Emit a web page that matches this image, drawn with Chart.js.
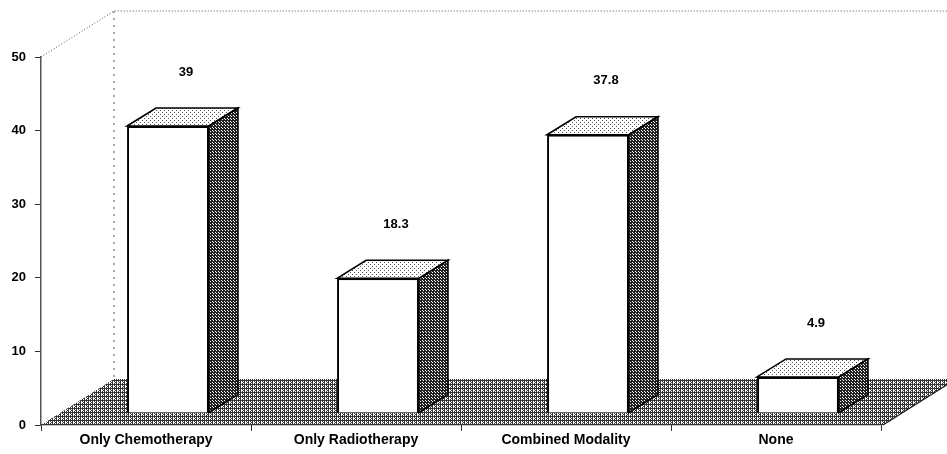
<!DOCTYPE html>
<html><head><meta charset="utf-8">
<script src="https://cdn.jsdelivr.net/npm/chart.js@4/dist/chart.umd.min.js"></script>
<style>html,body{margin:0;padding:0;background:#fff}#wrap{width:947px;height:454px}</style>
</head><body><div id="wrap"><canvas id="c" width="947" height="454"></canvas></div>
<script>
const categories = ['Only Chemotherapy', 'Only Radiotherapy', 'Combined Modality', 'None'];
const percentages = [39, 18.3, 37.8, 4.9];
const valueLabels = ['39', '18.3', '37.8', '4.9'];
const yMin = 0, yMax = 50, yStep = 10;

const FLOOR = {dx: 73, dy: -46};
const SHIFT = {dx: 22, dy: -12};
const DEPTH = {dx: 29, dy: -18};
const FONT = '"Liberation Sans", Arial, sans-serif';

function makePattern(ctx, rows, dark) {
  const c = document.createElement('canvas');
  c.width = rows[0].length; c.height = rows.length;
  const g = c.getContext('2d');
  g.fillStyle = '#fff'; g.fillRect(0, 0, c.width, c.height);
  g.fillStyle = dark;
  rows.forEach((r, y) => [...r].forEach((ch, x) => { if (ch === 'x') g.fillRect(x, y, 1, 1); }));
  return ctx.createPattern(c, 'repeat');
}
let P = null;
function pats(ctx) {
  if (!P) {
    P = {
      floor: makePattern(ctx, ['xxxx', 'x.x.', 'x..x', 'x.x.'], '#333'),
      side: makePattern(ctx, ['xxx', 'x.x', 'xx.'], '#222'),
      top: makePattern(ctx, ['x...', '....', '..x.', '....'], '#555')
    };
  }
  return P;
}

const threeD = {
  id: 'threeD',
  beforeDatasetsDraw(chart) {
    const {ctx, chartArea: a} = chart;
    const ys = chart.scales.y;
    const y0 = ys.getPixelForValue(yMin), yT = ys.getPixelForValue(yMax);
    const L = a.left, R = a.right + 2;
    const p = pats(ctx);
    ctx.save();
    ctx.beginPath();
    ctx.moveTo(L, y0); ctx.lineTo(R, y0);
    ctx.lineTo(R + FLOOR.dx, y0 + FLOOR.dy); ctx.lineTo(L + FLOOR.dx, y0 + FLOOR.dy);
    ctx.closePath();
    ctx.fillStyle = p.floor; ctx.fill();
    ctx.strokeStyle = '#222'; ctx.lineWidth = 1.2;
    ctx.beginPath(); ctx.moveTo(R, y0); ctx.lineTo(R + FLOOR.dx, y0 + FLOOR.dy); ctx.stroke();
    ctx.setLineDash([1, 2]); ctx.strokeStyle = '#555'; ctx.lineWidth = 1;
    ctx.beginPath(); ctx.moveTo(L, yT); ctx.lineTo(L + FLOOR.dx, yT + FLOOR.dy); ctx.lineTo(chart.width, yT + FLOOR.dy); ctx.stroke();
    ctx.setLineDash([2, 5]);
    ctx.beginPath(); ctx.moveTo(L + FLOOR.dx, yT + FLOOR.dy); ctx.lineTo(L + FLOOR.dx, y0 + FLOOR.dy); ctx.stroke();
    ctx.restore();
  },
  beforeDatasetDraw(chart) {
    chart.ctx.save();
    chart.ctx.translate(SHIFT.dx, SHIFT.dy);
  },
  afterDatasetDraw(chart, args) {
    const ctx = chart.ctx;
    const p = pats(ctx);
    args.meta.data.forEach(bar => {
      const {x, y, base, width} = bar.getProps(['x', 'y', 'base', 'width'], true);
      const l = x - width / 2, r = x + width / 2;
      ctx.lineWidth = 1.6; ctx.strokeStyle = '#000'; ctx.lineJoin = 'miter';
      ctx.beginPath();
      ctx.moveTo(l, y); ctx.lineTo(l + DEPTH.dx, y + DEPTH.dy); ctx.lineTo(r + DEPTH.dx, y + DEPTH.dy); ctx.lineTo(r, y); ctx.closePath();
      ctx.fillStyle = p.top; ctx.fill(); ctx.stroke();
      ctx.beginPath();
      ctx.moveTo(r, y); ctx.lineTo(r + DEPTH.dx, y + DEPTH.dy); ctx.lineTo(r + DEPTH.dx, base + DEPTH.dy); ctx.lineTo(r, base); ctx.closePath();
      ctx.fillStyle = p.side; ctx.fill(); ctx.stroke();
    });
    ctx.restore();
    ctx.save();
    ctx.fillStyle = '#000';
    ctx.font = 'bold 13px ' + FONT;
    ctx.textAlign = 'center'; ctx.textBaseline = 'middle';
    args.meta.data.forEach((bar, i) => {
      ctx.fillText(valueLabels[i], bar.x + SHIFT.dx + 18, bar.y + SHIFT.dy - 54);
    });
    ctx.restore();
  }
};

new Chart(document.getElementById('c'), {
  type: 'bar',
  data: {
    labels: categories,
    datasets: [{
      data: percentages,
      backgroundColor: '#fff',
      borderColor: '#000',
      borderWidth: 2,
      categoryPercentage: 1,
      barPercentage: 0.39
    }]
  },
  options: {
    responsive: false,
    devicePixelRatio: 1,
    animation: false,
    layout: {padding: {top: 57, right: 66, left: 0, bottom: 0}},
    plugins: {legend: {display: false}, tooltip: {enabled: false}},
    scales: {
      x: {
        afterFit(s) { s.height = 29; },
        grid: {drawOnChartArea: false, tickLength: 6, color: '#333', offset: true},
        border: {color: '#222', width: 1.2},
        ticks: {color: '#000', padding: 1, maxRotation: 0, font: {family: FONT, size: 14, weight: 'bold'}}
      },
      y: {
        min: yMin, max: yMax,
        afterFit(s) { s.width = 41; },
        grid: {drawOnChartArea: false, tickLength: 6, color: '#333'},
        border: {color: '#555', width: 1.5, dash: [6, 2]},
        ticks: {stepSize: yStep, color: '#000', padding: 9, font: {family: FONT, size: 13, weight: 'bold'}}
      }
    }
  },
  plugins: [threeD]
});
</script></body></html>
